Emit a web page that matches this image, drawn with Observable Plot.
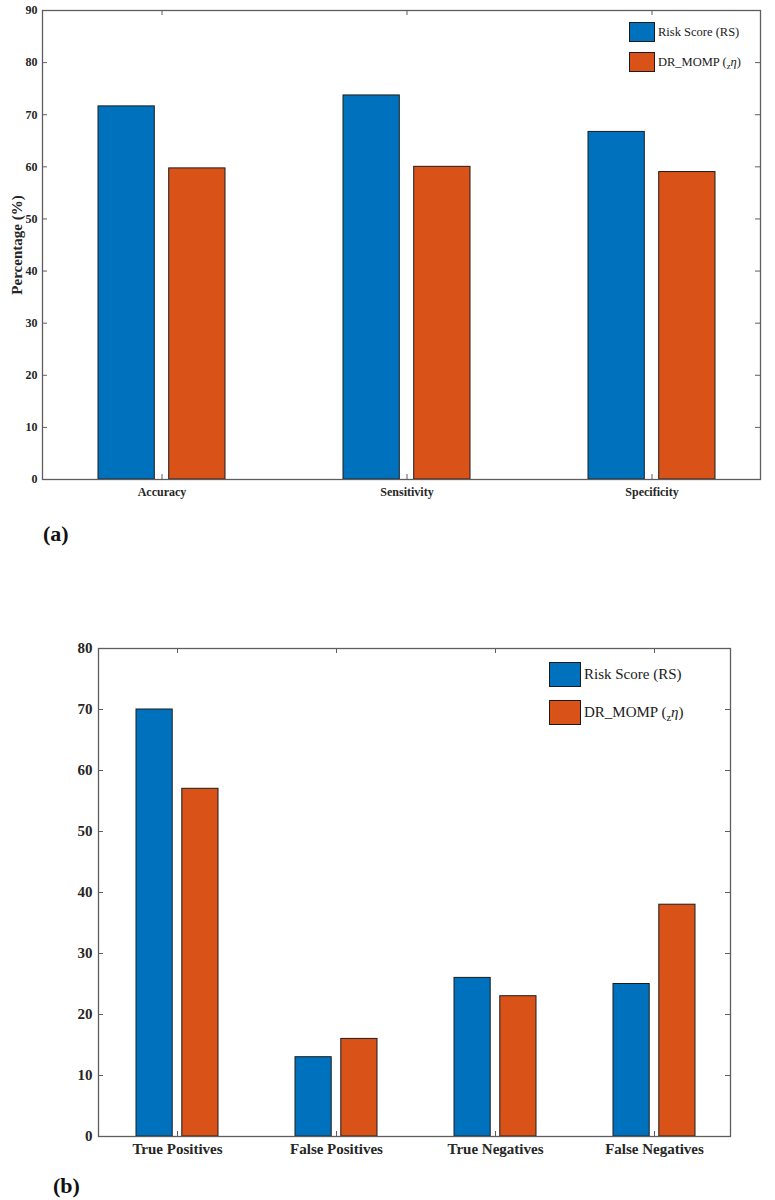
<!DOCTYPE html>
<html><head><meta charset="utf-8">
<script src="https://cdn.jsdelivr.net/npm/d3@7"></script>
<script src="https://cdn.jsdelivr.net/npm/@observablehq/plot@0.6"></script>
<style>
body{margin:0;background:#fff;}
#wrap{position:relative;width:775px;height:1200px;font-family:"Liberation Serif","Times New Roman",serif;}
.chart{position:absolute;left:0;}
.sw{position:absolute;box-sizing:border-box;border:1px solid #1a1a1a;}
.lt{position:absolute;white-space:nowrap;color:#1a1a1a;}
.lt sub{font-size:0.7em;vertical-align:-0.35em;}
.panel{position:absolute;font-weight:bold;font-size:22px;line-height:22px;color:#111;}
svg [aria-label="y-axis label"]{font-size:15px;}
</style></head><body><div id="wrap"></div>
<script>
// ---- data ----
const metricCategories = ["Accuracy", "Sensitivity", "Specificity"];
const metricRS = [71.6, 73.7, 66.7];
const metricDR = [59.7, 60.0, 59.0];
const metricTicks = [0, 10, 20, 30, 40, 50, 60, 70, 80, 90];

const countCategories = ["True Positives", "False Positives", "True Negatives", "False Negatives"];
const countRS = [70, 13, 26, 25];
const countDR = [57, 16, 23, 38];
const countTicks = [0, 10, 20, 30, 40, 50, 60, 70, 80];

const seriesLabels = ["Risk Score (RS)", "DR_MOMP (<sub>z</sub><i>η</i>)"];
const seriesColors = ["#0072BD", "#D95319"];
const panelLabels = ["(a)", "(b)"];

const axisColor = "#5e5e5e";
const fontFam = "'Liberation Serif','Times New Roman',serif";

function chart(c) {
  const plotW = c.width - c.ml - c.mr, plotH = c.height - c.mt - c.mb;
  const rows = c.cats.map((cat, i) => ({cat, rs: c.rs[i], dr: c.dr[i]}));
  return Plot.plot({
    width: c.width, height: c.height,
    marginTop: c.mt, marginBottom: c.mb, marginLeft: c.ml, marginRight: c.mr,
    style: {fontFamily: fontFam, fontSize: c.fontSize + "px", fontWeight: "bold", color: "#262626", background: "transparent", overflow: "visible"},
    x: {type: "band", domain: c.cats, paddingInner: c.pi, paddingOuter: c.po, align: c.align, label: null, tickSize: 0, tickPadding: c.xPad},
    y: {domain: [0, c.yMax], ticks: c.ticks, label: c.yLabel, labelAnchor: "center", labelOffset: c.yLabelOffset, labelArrow: "none", tickSize: 0, tickPadding: c.yPad},
    marks: [
      Plot.barY(rows, {x: "cat", y: "rs", fill: seriesColors[0], stroke: "#1c1c1c", strokeWidth: 1, insetRight: c.barW + c.gap}),
      Plot.barY(rows, {x: "cat", y: "dr", fill: seriesColors[1], stroke: "#1c1c1c", strokeWidth: 1, insetLeft: c.barW + c.gap}),
      Plot.tickY(c.ticks, {y: d => d, insetRight: plotW - c.tickLen, stroke: axisColor}),
      Plot.tickY(c.ticks, {y: d => d, insetLeft: plotW - c.tickLen, stroke: axisColor}),
      Plot.tickX(c.cats, {x: d => d, insetTop: plotH - c.tickLen, stroke: axisColor}),
      Plot.tickX(c.cats, {x: d => d, insetBottom: plotH - c.tickLen, stroke: axisColor}),
      Plot.frame({stroke: axisColor, strokeWidth: 1.3})
    ]
  });
}

const wrap = document.getElementById("wrap");

function place(el, top) {
  el.classList.add("chart");
  el.style.top = top + "px";
  wrap.appendChild(el);
}

const top1 = chart({
  cats: metricCategories, rs: metricRS, dr: metricDR, ticks: metricTicks, yMax: 90,
  width: 775, height: 510, mt: 10, mb: 31, ml: 42, mr: 15,
  pi: 0.4815, po: 0.2018, align: 0.552, barW: 56.7, gap: 14,
  fontSize: 12, yLabel: "Percentage (%)", yLabelOffset: 31, yPad: 5, xPad: 8, tickLen: 5
});
place(top1, 0);

const bot = chart({
  cats: countCategories, rs: countRS, dr: countDR, ticks: countTicks, yMax: 80,
  width: 775, height: 620, mt: 88, mb: 44, ml: 98, mr: 45,
  pi: 0.4843, po: 0.226, align: 0.514, barW: 36.3, gap: 9.5,
  fontSize: 15, yLabel: null, yLabelOffset: 0, yPad: 6, xPad: 7, tickLen: 5
});
place(bot, 560);

function legend(x, y, w, h, rowGap, textX, fontSize) {
  seriesLabels.forEach((lab, i) => {
    const sw = document.createElement("div");
    sw.className = "sw";
    Object.assign(sw.style, {left: x + "px", top: (y + i * rowGap) + "px", width: w + "px", height: h + "px", background: seriesColors[i]});
    wrap.appendChild(sw);
    const t = document.createElement("div");
    t.className = "lt";
    t.innerHTML = lab;
    Object.assign(t.style, {left: textX + "px", top: (y + i * rowGap) + "px", height: h + "px", lineHeight: h + "px", fontSize: fontSize + "px"});
    wrap.appendChild(t);
  });
}
legend(629, 22, 26, 20, 30, 658, 12.5);
legend(549, 662, 32, 25, 38, 584, 15);

[[43, 523], [53, 1175]].forEach(([x, y], i) => {
  const p = document.createElement("div");
  p.className = "panel";
  p.textContent = panelLabels[i];
  p.style.left = x + "px";
  p.style.top = y + "px";
  wrap.appendChild(p);
});
</script></body></html>
